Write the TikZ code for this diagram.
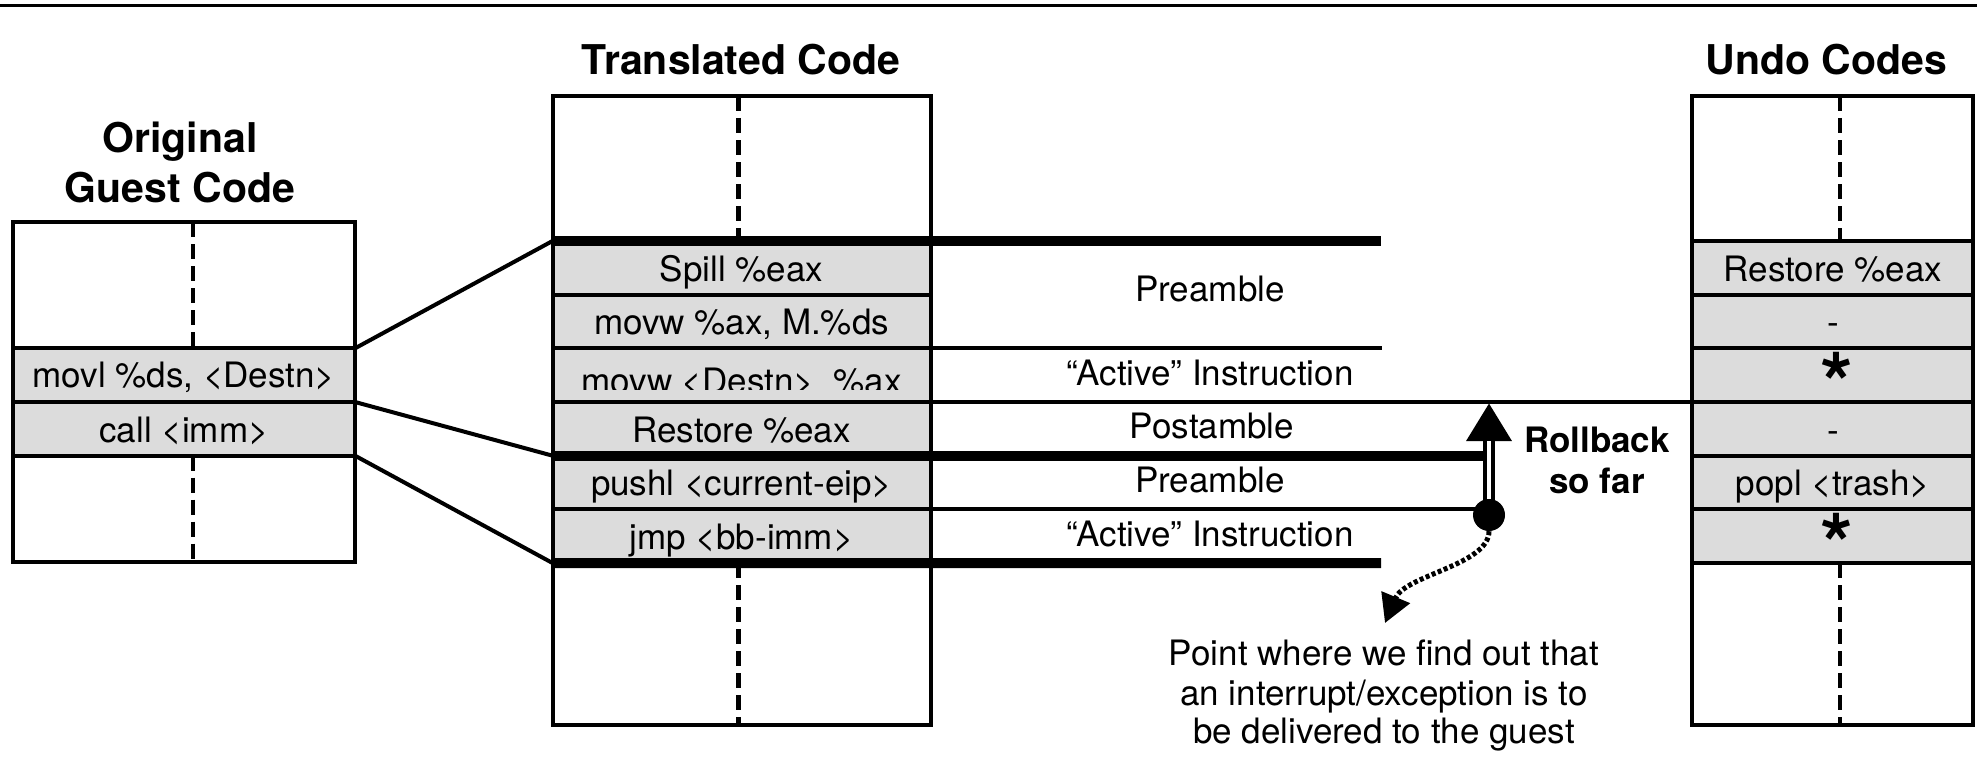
\documentclass[tikz,border=0pt]{standalone}
\usepackage{fontspec}
\setmainfont{TeX Gyre Heros}
\usetikzlibrary{arrows.meta}
\definecolor{rowgray}{RGB}{220,220,220}
% asterisk boxed tightly around its glyph: base = bottom of the glyph
\newcommand{\tightstar}{\raisebox{-0.387em}[0.331em][0pt]{*}}
\begin{document}
\begin{tikzpicture}[x=1pt,y=-1pt,
  codebox/.style={draw, line width=4pt, fill=white, inner sep=0pt, outer sep=0pt, anchor=north west},
  coderow/.style={draw, line width=4pt, fill=rowgray, inner sep=0pt, outer sep=0pt, anchor=north west, minimum height=53.67pt},
  thinrule/.style={line width=4pt},
  thickrule/.style={line width=10pt},
  midguide/.style={line width=4.5pt, dash pattern=on 15pt off 7pt},
  xlink/.style={line width=4pt},
  txt/.style={inner sep=0pt, anchor=base, font=\fontsize{35}{42}\selectfont},
  boldtxt/.style={inner sep=0pt, anchor=base, font=\fontsize{35}{42}\selectfont\bfseries},
  headtxt/.style={inner sep=0pt, anchor=base, font=\fontsize{41}{48}\selectfont\bfseries},
  undostar/.style={inner sep=0pt, anchor=base, font=\fontsize{84}{90}\selectfont\bfseries},
]
\useasboundingbox (0,0) rectangle (1977,757);

% rule across the top
\coordinate (topl) at (0,6);
\coordinate (topr) at (1977,6);
\draw[line width=3pt] (topl) -- (topr);

% ---------- original guest code ----------
\node[codebox, minimum width=342.5pt, minimum height=340pt] (obox) at (12.5,222) {};
\node[coderow, minimum width=342.5pt] (o1) at (12.5,348.33) {};
\node[coderow, minimum width=342.5pt] (o2) at (12.5,402) {};
\draw[midguide] (193,222) -- (193,348.33);
\draw[midguide] (193,455.67) -- (193,562);
\node[txt] (otx1) at (184,387.7) {movl \%ds, <Destn>};
\node[txt] (otx2) at (184,442) {call <imm>};
\node[headtxt] (oh1) at (180,153) {Original};
\node[headtxt] (oh2) at (180,202) {Guest Code};

% ---------- translated code ----------
\node[codebox, minimum width=378.2pt, minimum height=629pt] (tbox) at (552.5,96) {};
\node[coderow, minimum width=378.2pt] (t1) at (552.5,241) {};
\node[coderow, minimum width=378.2pt] (t2) at (552.5,294.67) {};
\node[coderow, minimum width=378.2pt] (t3) at (552.5,348.33) {};
\node[coderow, minimum width=378.2pt] (t4) at (552.5,402) {};
\node[coderow, minimum width=378.2pt] (t5) at (552.5,455.67) {};
\node[coderow, minimum width=378.2pt] (t6) at (552.5,509.33) {};
\draw[midguide] (738.5,96) -- (738.5,241);
\draw[midguide] (738.5,563) -- (738.5,725);
\node[headtxt] (th) at (741,75) {Translated Code};

% ---------- undo codes ----------
\node[codebox, minimum width=281pt, minimum height=629pt] (ubox) at (1692,96) {};
\node[coderow, minimum width=281pt] (u1) at (1692,241) {};
\node[coderow, minimum width=281pt] (u2) at (1692,294.67) {};
\node[coderow, minimum width=281pt] (u3) at (1692,348.33) {};
\node[coderow, minimum width=281pt] (u4) at (1692,402) {};
\node[coderow, minimum width=281pt] (u5) at (1692,455.67) {};
\node[coderow, minimum width=281pt] (u6) at (1692,509.33) {};
\draw[midguide] (1840,96) -- (1840,241);
\draw[midguide] (1840,563) -- (1840,725);
\node[headtxt] (uh) at (1826,75) {Undo Codes};

% ---------- region boundaries to the right of the translated code ----------
\coordinate (hitc) at (1489,515);
\coordinate (e1) at (1381,241);
\coordinate (e3) at (1382,348.33);
\coordinate (e7) at (1381,563);
\draw[thickrule] (t1.north west) -- (e1);
\draw[thinrule] (t3.north east) -- (e3);
\draw[thinrule] (t4.north east) -- (u4.north west);
\draw[thickrule, shorten >=6pt] (t5.north west) -- (t5.north west -| hitc);
\draw[thinrule] (t6.north east) -- (t6.north east -| hitc);
\draw[thickrule] (t6.south west) -- (e7);

% ---------- links from guest code to translated code ----------
\draw[xlink] (o1.north east) -- (t1.north west);
\draw[xlink] (o2.north east) -- (t5.north west);
\draw[xlink] (o2.south east) -- (t6.south west);

% ---------- translated instructions ----------
\node[txt] (ttx1) at (741.6,281) {Spill \%eax};
\node[txt] (ttx2) at (741.6,334.7) {movw \%ax, M.\%ds};
\begin{scope}
  \clip (t3.north west) rectangle (930.7,389.3);
  \node[txt] (ttx3) at (741.6,393.3) {movw <Destn>\kern0.278em\ \%ax};
\end{scope}
\node[txt] (ttx4) at (741.6,442) {Restore \%eax};
\node[txt] (ttx5) at (741.6,495.7) {pushl <current-eip>};
\node[txt] (ttx6) at (741.6,549.3) {jmp <bb-imm>};

% ---------- region labels ----------
\node[txt] (lb1) at (1210,301.7) {Preamble};
\node[txt] (lb2) at (1210,385.7) {“Active” Instruction};
\node[txt] (lb3) at (1212,438.3) {Postamble};
\node[txt] (lb4) at (1210,492.7) {Preamble};
\node[txt] (lb5) at (1210,546) {“Active” Instruction};

% ---------- undo entries ----------
\node[txt] (utx1) at (1833,281) {Restore \%eax};
\node[txt] (utx2) at (1833,334.7) {-};
\node[undostar] (utx3) at (1837,381) {\tightstar};
\node[txt] (utx4) at (1833,442) {-};
\node[txt] (utx5) at (1833,495.7) {popl <trash>};
\node[undostar] (utx6) at (1837,542) {\tightstar};

% ---------- rollback arrow ----------
\coordinate (rbtip) at (1489,403);
\draw[line width=12pt, -{Triangle[length=38pt,width=43pt]}] (hitc) -- (rbtip);
\draw[white, line width=3.5pt, shorten >=38pt] (hitc) -- (rbtip);
\node[circle, fill, inner sep=0pt, minimum size=32pt] (hit) at (hitc) {};
\node[boldtxt] (rb1) at (1597,452) {Rollback};
\node[boldtxt] (rb2) at (1597,493) {so far};

% ---------- interrupt point ----------
\coordinate (ptip) at (1385,623);
\draw[line width=5pt, dash pattern=on 4pt off 2.5pt, -{Triangle[length=28pt,width=30pt]}]
  (hit.south) .. controls (1489,565) and (1405,575) .. (ptip);
\node[txt] (pt1) at (1384,665) {Point where we find out that};
\node[txt] (pt2) at (1384,705) {an interrupt/exception is to};
\node[txt] (pt3) at (1384,743.3) {be delivered to the guest};
\end{tikzpicture}
\end{document}
